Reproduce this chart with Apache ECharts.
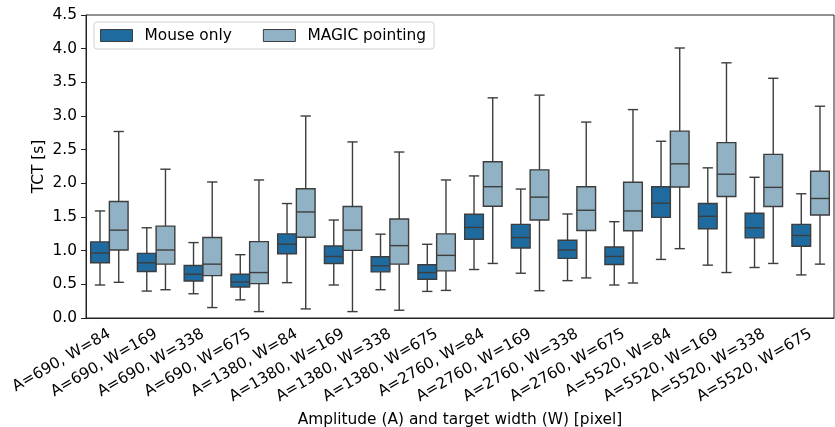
<!DOCTYPE html>
<html><head><meta charset="utf-8">
<script src="https://cdn.jsdelivr.net/npm/echarts@6/dist/echarts.min.js"></script>
<style>html,body{margin:0;padding:0;background:#fff}#c{width:835px;height:427px}</style>
</head><body><div id="c"></div>
<script>
const categories = [
  'A=690, W=84','A=690, W=169','A=690, W=338','A=690, W=675',
  'A=1380, W=84','A=1380, W=169','A=1380, W=338','A=1380, W=675',
  'A=2760, W=84','A=2760, W=169','A=2760, W=338','A=2760, W=675',
  'A=5520, W=84','A=5520, W=169','A=5520, W=338','A=5520, W=675'
];
const seriesNames = ['Mouse only', 'MAGIC pointing'];
// each row: [lower whisker, Q1, median, Q3, upper whisker]
const mouseOnly = [
  [0.49, 0.82, 0.965, 1.13, 1.59],
  [0.40, 0.69, 0.82, 0.96, 1.34],
  [0.36, 0.55, 0.65, 0.78, 1.12],
  [0.27, 0.46, 0.535, 0.65, 0.94],
  [0.525, 0.955, 1.095, 1.25, 1.70],
  [0.49, 0.81, 0.915, 1.07, 1.455],
  [0.42, 0.685, 0.775, 0.91, 1.245],
  [0.395, 0.575, 0.675, 0.79, 1.095],
  [0.72, 1.17, 1.345, 1.54, 2.11],
  [0.665, 1.04, 1.195, 1.39, 1.915],
  [0.555, 0.885, 1.01, 1.155, 1.545],
  [0.49, 0.795, 0.915, 1.055, 1.43],
  [0.87, 1.495, 1.705, 1.95, 2.625],
  [0.785, 1.325, 1.51, 1.70, 2.23],
  [0.75, 1.19, 1.34, 1.555, 2.09],
  [0.64, 1.065, 1.225, 1.39, 1.845]
];
const magicPointing = [
  [0.53, 1.01, 1.305, 1.73, 2.77],
  [0.42, 0.80, 1.01, 1.365, 2.21],
  [0.155, 0.63, 0.80, 1.195, 2.02],
  [0.095, 0.51, 0.675, 1.135, 2.05],
  [0.135, 1.20, 1.575, 1.92, 3.00],
  [0.095, 1.005, 1.305, 1.655, 2.615],
  [0.115, 0.80, 1.075, 1.47, 2.465],
  [0.41, 0.70, 0.93, 1.25, 2.05],
  [0.81, 1.66, 1.95, 2.32, 3.27],
  [0.405, 1.455, 1.795, 2.20, 3.31],
  [0.595, 1.30, 1.60, 1.95, 2.91],
  [0.52, 1.295, 1.59, 2.015, 3.095],
  [1.03, 1.945, 2.29, 2.775, 4.01],
  [0.675, 1.805, 2.135, 2.605, 3.79],
  [0.81, 1.655, 1.94, 2.43, 3.56],
  [0.80, 1.53, 1.775, 2.18, 3.145]
];
const yMin = 0, yMax = 4.5, yInterval = 0.5;
const xTitle = 'Amplitude (A) and target width (W) [pixel]';
const yTitle = 'TCT [s]';

const colors = ['#1f6b9f', '#90b2c4'];
const edge = '#3d3d3d';
const FONT = 'DejaVu Sans';
const FS = 15.4;

function makeRender(offsetFrac, fill) {
  return function (params, api) {
    const ci = api.value(0);
    const band = api.size([1, 0])[0];
    const w = band * 0.4;
    const cx = api.coord([ci, 0])[0] + offsetFrac * band;
    const y = i => api.coord([ci, api.value(i)])[1];
    const lo = y(1), q1 = y(2), md = y(3), q3 = y(4), hi = y(5);
    const cap = w * 0.55;
    const ls = { stroke: edge, lineWidth: 1.4 };
    return {
      type: 'group',
      children: [
        { type: 'line', shape: { x1: cx, y1: q3, x2: cx, y2: hi }, style: ls },
        { type: 'line', shape: { x1: cx, y1: q1, x2: cx, y2: lo }, style: ls },
        { type: 'line', shape: { x1: cx - cap / 2, y1: hi, x2: cx + cap / 2, y2: hi }, style: ls },
        { type: 'line', shape: { x1: cx - cap / 2, y1: lo, x2: cx + cap / 2, y2: lo }, style: ls },
        { type: 'rect', shape: { x: cx - w / 2, y: q3, width: w, height: q1 - q3 }, style: { fill: fill, stroke: edge, lineWidth: 1.4 } },
        { type: 'line', shape: { x1: cx - w / 2, y1: md, x2: cx + w / 2, y2: md }, style: ls }
      ]
    };
  };
}

function rows(arr) { return arr.map((r, i) => [i].concat(r)); }

const chart = echarts.init(document.getElementById('c'), null, { renderer: 'canvas' });
chart.setOption({
  animation: false,
  backgroundColor: '#fff',
  textStyle: { fontFamily: FONT },
  grid: { left: 86, right: 1, top: 15, bottom: 109, containLabel: false, outerBoundsMode: 'none', show: true, borderColor: '#222', borderWidth: 1, backgroundColor: 'transparent' },
  legend: {
    left: 94, top: 22,
    padding: [6, 8, 6, 6],
    itemWidth: 32, itemHeight: 12, itemGap: 31,
    borderColor: '#d0d0d0', borderWidth: 1, borderRadius: 3,
    backgroundColor: 'rgba(255,255,255,0.8)',
    textStyle: { fontFamily: FONT, fontSize: FS, color: '#000', padding: [0, 0, 0, 7] },
    data: [
      { name: seriesNames[0], icon: 'rect', itemStyle: { color: colors[0], borderColor: edge, borderWidth: 1 } },
      { name: seriesNames[1], icon: 'rect', itemStyle: { color: colors[1], borderColor: edge, borderWidth: 1 } }
    ]
  },
  xAxis: {
    type: 'category', data: categories,
    name: xTitle, nameLocation: 'middle', nameGap: 94, nameMoveOverlap: false,
    nameTextStyle: { fontFamily: FONT, fontSize: FS, color: '#000' },
    axisLine: { lineStyle: { color: '#222', width: 1 } },
    axisTick: { alignWithLabel: true, length: 5, lineStyle: { color: '#222' } },
    axisLabel: { interval: 0, rotate: 30, margin: 15, fontFamily: FONT, fontSize: FS, color: '#000' },
    splitLine: { show: false }
  },
  yAxis: {
    type: 'value', min: yMin, max: yMax, interval: yInterval,
    name: yTitle, nameLocation: 'middle', nameGap: 40, nameMoveOverlap: false,
    nameTextStyle: { fontFamily: FONT, fontSize: FS, color: '#000' },
    axisLine: { show: true, lineStyle: { color: '#222', width: 1 } },
    axisTick: { show: true, length: 5, lineStyle: { color: '#222' } },
    axisLabel: { margin: 9, fontFamily: FONT, fontSize: FS, color: '#000', formatter: v => v.toFixed(1) },
    splitLine: { show: false }
  },
  series: [
    {
      name: seriesNames[0], type: 'custom', renderItem: makeRender(-0.2, colors[0]),
      itemStyle: { color: colors[0] },
      encode: { x: 0, y: [1, 2, 3, 4, 5] },
      data: rows(mouseOnly)
    },
    {
      name: seriesNames[1], type: 'custom', renderItem: makeRender(0.2, colors[1]),
      itemStyle: { color: colors[1] },
      encode: { x: 0, y: [1, 2, 3, 4, 5] },
      data: rows(magicPointing)
    }
  ]
});
</script>
</body></html>
